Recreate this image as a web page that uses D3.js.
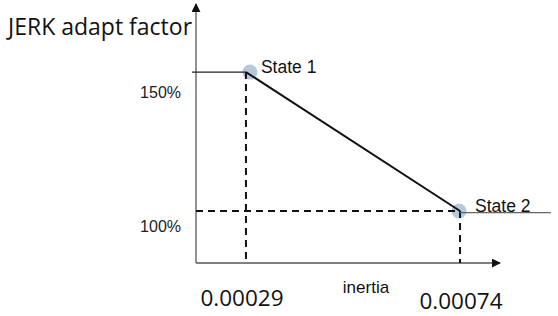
<!DOCTYPE html>
<html lang="en">
<head>
<meta charset="UTF-8">
<title>JERK adapt factor</title>
<script src="https://d3js.org/d3.v7.min.js"></script>
<style>
  body { margin: 0; background: #fff; }
  svg { display: block; }
  .tick-y { font: 16px "Liberation Sans", Arial, sans-serif; fill: #222; }
  .tick-x { font: 22.5px "Open Sans", "DejaVu Sans", sans-serif; fill: #111; }
  .state { font: 17.5px "Liberation Sans", Arial, sans-serif; fill: #111; }
</style>
</head>
<body>
<div id="chart"></div>
<script>
// data
const stateNames = ["State 1", "State 2"];
const inertia = [0.00029, 0.00074];
const factor = [150, 100];
const xTickLabels = ["0.00029", "0.00074"];
const yTickLabels = ["150%", "100%"];

const width = 558, height = 316;

const svg = d3.select("#chart").append("svg")
  .attr("width", width)
  .attr("height", height);

const x = d3.scaleLinear().domain([0.000185, 0.000824]).range([196, 500]);
const y = d3.scaleLinear().domain([81.3, 174.5]).range([263, 4]);

const states = stateNames.map((n, i) => ({ name: n, inertia: inertia[i], factor: factor[i] }));

svg.append("defs").append("marker")
  .attr("id", "arrow")
  .attr("viewBox", "0 0 10 10")
  .attr("refX", 9).attr("refY", 5)
  .attr("markerWidth", 9).attr("markerHeight", 9)
  .attr("markerUnits", "userSpaceOnUse")
  .attr("orient", "auto")
  .append("path").attr("d", "M0,0L10,5L0,10z").attr("fill", "#111");

// circles behind everything
svg.selectAll("circle.pt").data(states).enter().append("circle")
  .attr("class", "pt")
  .attr("cx", (d, i) => x(d.inertia) + (i === 0 ? 4 : -1))
  .attr("cy", d => y(d.factor))
  .attr("r", 7.5)
  .attr("fill", "#b7c8da");

// axes
const x0 = x.range()[0], yBottom = y.range()[0];
svg.append("line")
  .attr("x1", x0).attr("y1", yBottom).attr("x2", x0).attr("y2", y.range()[1])
  .attr("stroke", "#777").attr("stroke-width", 1.6)
  .attr("marker-end", "url(#arrow)");
svg.append("line")
  .attr("x1", x0).attr("y1", yBottom).attr("x2", x.range()[1]).attr("y2", yBottom)
  .attr("stroke", "#555").attr("stroke-width", 1.6)
  .attr("marker-end", "url(#arrow)");

// dashed guides
states.forEach(d => {
  svg.append("line")
    .attr("x1", x(d.inertia)).attr("y1", y(d.factor))
    .attr("x2", x(d.inertia)).attr("y2", yBottom)
    .attr("stroke", "#111").attr("stroke-width", 2)
    .attr("stroke-dasharray", "7,5");
});
svg.append("line")
  .attr("x1", x0).attr("y1", y(factor[1]))
  .attr("x2", x(inertia[1])).attr("y2", y(factor[1]))
  .attr("stroke", "#111").attr("stroke-width", 2)
  .attr("stroke-dasharray", "7,5");

// saturation lines
svg.append("line")
  .attr("x1", x0 - 4).attr("y1", y(factor[0]))
  .attr("x2", x(inertia[0])).attr("y2", y(factor[0]))
  .attr("stroke", "#222").attr("stroke-width", 1.3);
svg.append("line")
  .attr("x1", x(inertia[1])).attr("y1", y(factor[1]) + 1.5)
  .attr("x2", 551).attr("y2", y(factor[1]) + 1.5)
  .attr("stroke", "#666").attr("stroke-width", 1.3);

// transition line
svg.append("path")
  .datum(states)
  .attr("d", d3.line().x(d => x(d.inertia)).y(d => y(d.factor)))
  .attr("fill", "none").attr("stroke", "#111").attr("stroke-width", 2);

// state labels
svg.selectAll("text.state").data(states).enter().append("text")
  .attr("class", "state")
  .attr("x", d => x(d.inertia) + 15)
  .attr("y", d => y(d.factor) + 1)
  .text(d => d.name);

// y tick labels
svg.selectAll("text.tick-y").data(factor).enter().append("text")
  .attr("class", "tick-y")
  .attr("x", 181)
  .attr("y", (d, i) => y(d) + (i === 0 ? 26 : 21))
  .attr("text-anchor", "end")
  .text((d, i) => yTickLabels[i]);

// x tick labels
svg.selectAll("text.tick-x").data(inertia).enter().append("text")
  .attr("class", "tick-x")
  .attr("x", (d, i) => x(d) + (i === 0 ? -4 : 1))
  .attr("y", (d, i) => 306 + i * 3)
  .attr("text-anchor", "middle")
  .text((d, i) => xTickLabels[i]);

// axis titles
svg.append("text")
  .attr("x", 8).attr("y", 35)
  .style("font", "23px 'Open Sans', 'DejaVu Sans', sans-serif")
  .attr("fill", "#111")
  .text("JERK adapt factor");
svg.append("text")
  .attr("x", 366).attr("y", 293)
  .attr("text-anchor", "middle")
  .style("font", "17px 'Liberation Sans', Arial, sans-serif")
  .attr("fill", "#111")
  .text("inertia");
</script>
</body>
</html>
